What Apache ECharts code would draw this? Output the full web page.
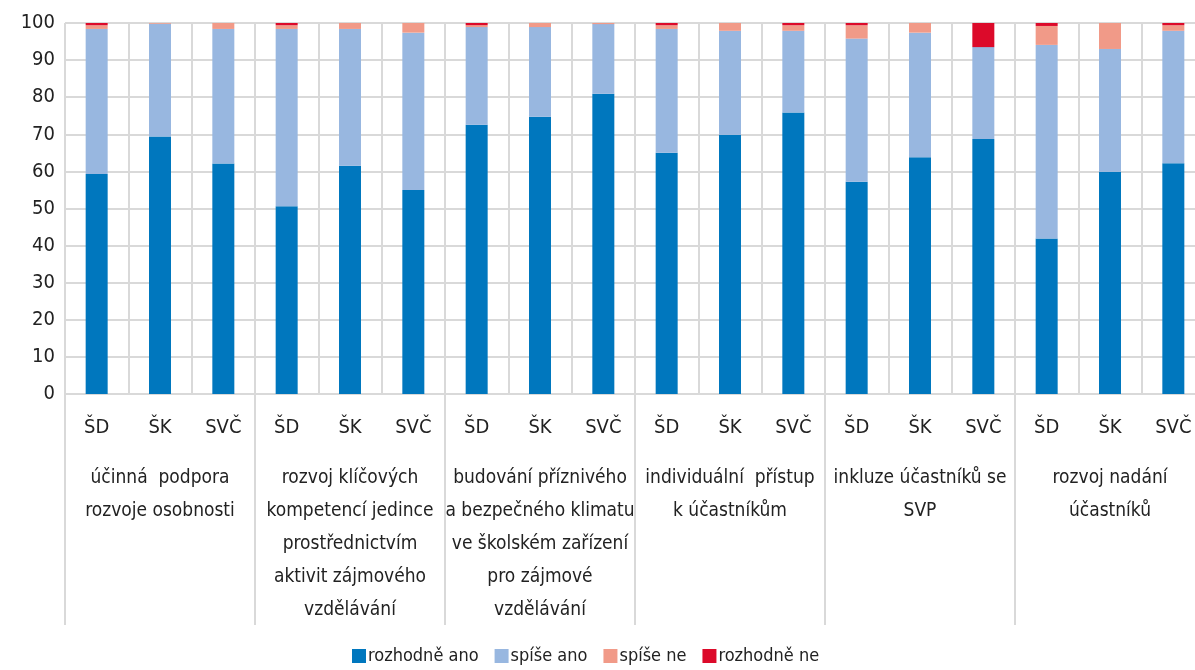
<!DOCTYPE html>
<html>
<head>
<meta charset="utf-8">
<script src="https://cdn.jsdelivr.net/npm/echarts@6/dist/echarts.min.js"></script>
<style>
  html, body { margin: 0; padding: 0; background: #fff; }
  #main { width: 1195px; height: 670px; }
</style>
</head>
<body>
<div id="main"></div>
<script>
var FONT = "'DejaVu Sans Condensed', 'Liberation Sans Narrow', 'Roboto', sans-serif";

// kategorie (typ zařízení) a skupiny
var types = ['ŠD', 'ŠK', 'SVČ'];
var groups = [
    'účinná  podpora\nrozvoje osobnosti',
    'rozvoj klíčových\nkompetencí jedince\nprostřednictvím\naktivit zájmového\nvzdělávání',
    'budování příznivého\na bezpečného klimatu\nve školském zařízení\npro zájmové\nvzdělávání',
    'individuální  přístup\nk účastníkům',
    'inkluze účastníků se\nSVP',
    'rozvoj nadání\núčastníků'
];

// hodnoty v % (18 sloupců: 6 skupin x ŠD, ŠK, SVČ)
var rozhodneAno = [59.3, 69.4, 62.1, 50.6, 61.5, 55.0, 72.6, 74.7, 80.9, 65.0, 69.9, 75.9, 57.2, 63.8, 68.7, 41.9, 59.9, 62.2];
var spiseAno    = [39.1, 30.4, 36.3, 47.8, 36.9, 42.4, 26.3, 24.2, 18.8, 33.4, 28.0, 22.0, 38.6, 33.6, 24.8, 52.2, 33.1, 35.7];
var spiseNe     = [1.0, 0.2, 1.6, 1.0, 1.6, 2.6, 0.5, 1.1, 0.3, 1.0, 2.1, 1.5, 3.6, 2.6, 0.0, 5.1, 7.0, 1.5];
var rozhodneNe  = [0.6, 0.0, 0.0, 0.6, 0.0, 0.0, 0.6, 0.0, 0.0, 0.6, 0.0, 0.6, 0.6, 0.0, 6.5, 0.8, 0.0, 0.6];

var categories = [];
groups.forEach(function () {
    types.forEach(function (t) { categories.push(t); });
});

var myChart = echarts.init(document.getElementById('main'));

function bar(name, data, color) {
    return {
        name: name,
        type: 'bar',
        stack: 'total',
        barWidth: 22,
        data: data,
        itemStyle: { color: color }
    };
}

var option = {
    animation: false,
    textStyle: { fontFamily: FONT },
    grid: { left: 65, width: 1140, top: 23, bottom: 276, outerBoundsMode: 'none' },
    legend: {
        bottom: 0,
        left: 347,
        itemWidth: 14,
        itemHeight: 14,
        itemGap: 16,
        icon: 'rect',
        textStyle: { fontFamily: FONT, fontSize: 18, color: '#222', padding: [0, 0, 0, -3] },
        data: ['rozhodně ano', 'spíše ano', 'spíše ne', 'rozhodně ne']
    },
    xAxis: [{
        type: 'category',
        data: categories,
        axisLine: { lineStyle: { color: '#d9d9d9', width: 2 } },
        axisTick: { show: false },
        splitLine: { show: true, interval: 0, lineStyle: { color: '#d9d9d9', width: 2 } },
        axisLabel: { interval: 0, margin: 24, fontSize: 20, color: '#222', fontFamily: FONT }
    }, {
        type: 'category',
        position: 'bottom',
        data: groups,
        axisLine: { show: false },
        axisTick: { show: true, length: 231, lineStyle: { color: '#d9d9d9', width: 2 } },
        axisLabel: { interval: 0, margin: 68, fontSize: 19, lineHeight: 33, color: '#222', fontFamily: FONT }
    }],
    yAxis: {
        type: 'value',
        min: 0,
        max: 100,
        interval: 10,
        axisLine: { show: false },
        axisTick: { show: false },
        splitLine: { lineStyle: { color: '#d9d9d9', width: 2 } },
        axisLabel: { margin: 10, fontSize: 20, color: '#222', fontFamily: FONT }
    },
    series: [
        bar('rozhodně ano', rozhodneAno, '#0077be'),
        bar('spíše ano', spiseAno, '#98b7e0'),
        bar('spíše ne', spiseNe, '#f19a88'),
        bar('rozhodně ne', rozhodneNe, '#dc0a2a')
    ]
};

myChart.setOption(option);

window.onresize = function () {
    myChart.resize();
};
</script>
</body>
</html>
